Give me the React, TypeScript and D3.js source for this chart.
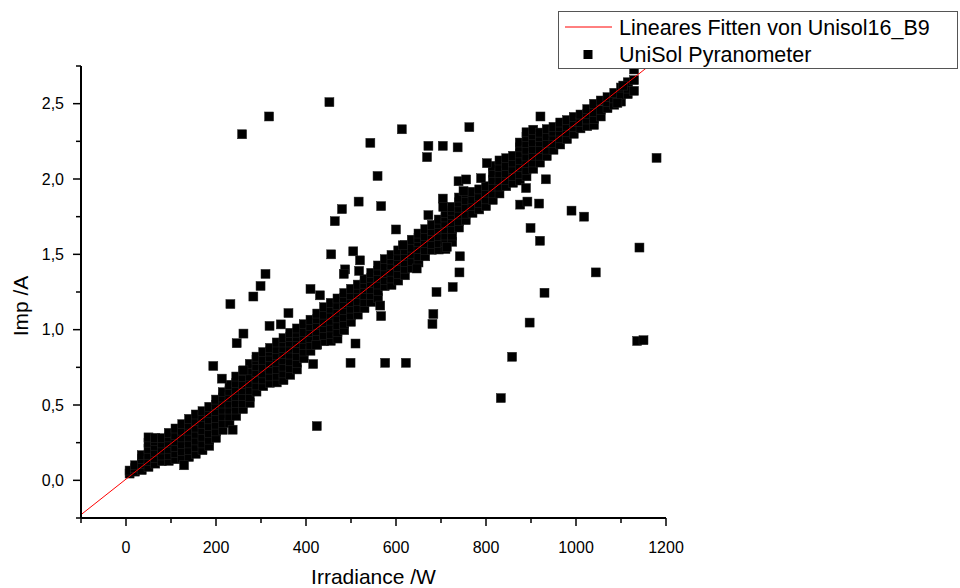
import React from 'react';
import * as d3 from 'd3';

const W = 960;
const H = 588;

// Axis ticks
const xMajorTicks = [0, 200, 400, 600, 800, 1000, 1200];
const xMinorTicks = [-100, 100, 300, 500, 700, 900, 1100];
const yMajorTicks = [0, 0.5, 1.0, 1.5, 2.0, 2.5];
const yMajorLabels = ['0,0', '0,5', '1,0', '1,5', '2,0', '2,5'];
const yMinorTicks = [-0.25, 0.25, 0.75, 1.25, 1.75, 2.25, 2.75];

// Linear fit
const fitIntercept = 0.008;
const fitSlope = 0.00236;

// Dense band of measurements: [irradiance, list of Imp values]
const bandColumns: [number, number[]][] = [
  [8, [0.045, 0.065]],
  [20, [0.058, 0.08, 0.1]],
  [35, [0.068, 0.11, 0.14, 0.167]],
  [50, [0.089, 0.13, 0.17, 0.21, 0.25, 0.285]],
  [65, [0.111, 0.15, 0.19, 0.23, 0.26, 0.282]],
  [80, [0.127, 0.165, 0.205, 0.245, 0.28]],
  [95, [0.129, 0.17, 0.21, 0.25, 0.285, 0.315]],
  [110, [0.14, 0.18, 0.22, 0.26, 0.3, 0.344]],
  [125, [0.15, 0.195, 0.24, 0.285, 0.33, 0.373]],
  [140, [0.155, 0.2, 0.245, 0.29, 0.33, 0.37, 0.408]],
  [155, [0.176, 0.22, 0.265, 0.31, 0.35, 0.395, 0.437]],
  [170, [0.2, 0.245, 0.29, 0.335, 0.375, 0.42, 0.459]],
  [185, [0.229, 0.27, 0.315, 0.36, 0.405, 0.445, 0.488]],
  [200, [0.282, 0.325, 0.37, 0.415, 0.46, 0.5, 0.536]],
  [215, [0.335, 0.38, 0.425, 0.47, 0.51, 0.55, 0.585]],
  [230, [0.382, 0.425, 0.47, 0.51, 0.555, 0.595, 0.634]],
  [245, [0.428, 0.47, 0.515, 0.56, 0.6, 0.645, 0.689]],
  [260, [0.473, 0.515, 0.56, 0.6, 0.64, 0.685, 0.725]],
  [275, [0.514, 0.555, 0.6, 0.645, 0.69, 0.73, 0.773]],
  [290, [0.589, 0.63, 0.675, 0.72, 0.76, 0.8, 0.821]],
  [305, [0.625, 0.67, 0.71, 0.755, 0.8, 0.851]],
  [320, [0.647, 0.69, 0.735, 0.78, 0.82, 0.855, 0.879]],
  [335, [0.65, 0.695, 0.74, 0.785, 0.83, 0.87, 0.915]],
  [350, [0.665, 0.71, 0.755, 0.8, 0.84, 0.88, 0.915, 0.944]],
  [365, [0.7, 0.745, 0.79, 0.835, 0.875, 0.915, 0.95, 0.979]],
  [380, [0.736, 0.78, 0.825, 0.87, 0.91, 0.95, 0.98, 1.008]],
  [395, [0.81, 0.855, 0.9, 0.94, 0.985, 1.036]],
  [410, [0.86, 0.9, 0.945, 0.985, 1.025, 1.066]],
  [425, [0.901, 0.945, 0.99, 1.03, 1.07, 1.107]],
  [440, [0.923, 0.965, 1.01, 1.05, 1.1, 1.149]],
  [455, [0.926, 0.97, 1.015, 1.06, 1.1, 1.14, 1.178]],
  [470, [0.941, 0.985, 1.03, 1.075, 1.12, 1.165, 1.207]],
  [485, [0.997, 1.04, 1.085, 1.13, 1.17, 1.21, 1.243]],
  [500, [1.052, 1.095, 1.14, 1.185, 1.23, 1.271]],
  [515, [1.1, 1.145, 1.19, 1.235, 1.27, 1.299]],
  [530, [1.143, 1.185, 1.23, 1.27, 1.305, 1.335]],
  [545, [1.184, 1.23, 1.27, 1.31, 1.345, 1.377]],
  [560, [1.211, 1.255, 1.3, 1.345, 1.39, 1.426]],
  [575, [1.289, 1.33, 1.375, 1.42, 1.468]],
  [590, [1.297, 1.34, 1.385, 1.43, 1.465, 1.496]],
  [605, [1.326, 1.37, 1.415, 1.455, 1.49, 1.526]],
  [620, [1.361, 1.405, 1.45, 1.49, 1.53, 1.561]],
  [635, [1.41, 1.455, 1.5, 1.545, 1.597]],
  [650, [1.446, 1.49, 1.535, 1.58, 1.61, 1.638]],
  [665, [1.487, 1.53, 1.575, 1.62, 1.667]],
  [680, [1.53, 1.57, 1.615, 1.655, 1.696]],
  [695, [1.532, 1.575, 1.62, 1.665, 1.7, 1.731]],
  [710, [1.535, 1.58, 1.625, 1.67, 1.71, 1.745, 1.774]],
  [725, [1.583, 1.625, 1.67, 1.715, 1.76, 1.79, 1.815]],
  [740, [1.678, 1.72, 1.765, 1.81, 1.845, 1.877]],
  [755, [1.727, 1.77, 1.815, 1.86, 1.906]],
  [770, [1.775, 1.82, 1.865, 1.915]],
  [785, [1.798, 1.84, 1.885, 1.931]],
  [800, [1.82, 1.865, 1.91, 1.952]],
  [815, [1.861, 1.905, 1.95, 1.995, 2.04, 2.087]],
  [830, [1.904, 1.95, 1.995, 2.04, 2.08, 2.123]],
  [845, [1.952, 1.995, 2.04, 2.085, 2.138]],
  [860, [1.975, 2.02, 2.065, 2.11, 2.154]],
  [875, [1.99, 2.035, 2.08, 2.125, 2.17, 2.21, 2.242]],
  [890, [2.018, 2.06, 2.105, 2.15, 2.195, 2.24, 2.28, 2.31]],
  [905, [2.068, 2.11, 2.155, 2.2, 2.245, 2.29, 2.327]],
  [920, [2.109, 2.155, 2.2, 2.245, 2.28, 2.308]],
  [935, [2.152, 2.195, 2.24, 2.285, 2.331]],
  [950, [2.194, 2.24, 2.285, 2.315, 2.346]],
  [965, [2.229, 2.27, 2.315, 2.345, 2.375]],
  [980, [2.265, 2.31, 2.35, 2.391]],
  [995, [2.3, 2.345, 2.38, 2.412]],
  [1010, [2.336, 2.38, 2.428]],
  [1025, [2.351, 2.395, 2.43, 2.464]],
  [1040, [2.359, 2.4, 2.445, 2.499]],
  [1055, [2.415, 2.46, 2.521]],
  [1070, [2.47, 2.51, 2.543]],
  [1085, [2.493, 2.535, 2.572]],
  [1100, [2.514, 2.56, 2.607]],
  [1115, [2.563, 2.6, 2.642]],
  [1129, [2.585, 2.656, 2.727]],
];

// Scattered measurements away from the band
const outlierIrr = [
  258, 318, 452, 613, 543, 559, 567, 517, 480, 464, 600, 456, 505, 520, 487, 518,
  484, 310, 299, 283, 232, 410, 361, 261, 246, 319, 344, 431, 194, 213, 261, 615,
  646, 672, 713, 704, 705, 763, 672, 669, 704, 737, 921, 802, 789, 739, 756, 750,
  565, 567, 510, 423, 416, 499, 576, 622, 424, 237, 129, 742, 741, 1044, 726, 690,
  930, 683, 681, 897, 858, 833, 1136, 1150, 1141, 1179, 889, 933, 876, 892, 918, 990,
  1018, 899, 920, 1105, 1092,
];
const outlierImp = [
  2.297, 2.415, 2.51, 2.33, 2.24, 2.02, 1.82, 1.85, 1.8, 1.72, 1.665, 1.5, 1.52, 1.46, 1.4, 1.39,
  1.37, 1.37, 1.29, 1.22, 1.17, 1.27, 1.11, 0.974, 0.91, 1.025, 1.035, 1.228, 0.759, 0.675, 0.73, 1.56,
  1.406, 1.76, 1.55, 1.87, 1.815, 2.344, 2.22, 2.145, 2.22, 2.21, 2.415, 2.105, 2.005, 1.985, 1.997, 1.92,
  1.16, 1.09, 0.908, 0.9, 0.772, 0.78, 0.78, 0.78, 0.36, 0.336, 0.1, 1.487, 1.38, 1.38, 1.283, 1.25,
  1.245, 1.104, 1.038, 1.047, 0.82, 0.546, 0.925, 0.93, 1.545, 2.14, 1.94, 1.998, 1.83, 1.85, 1.837, 1.79,
  1.75, 1.675, 1.59, 2.62, 2.505,
];

const FONT = 'Liberation Sans, Arial, Helvetica, sans-serif';

export default function App() {
  const x = d3.scaleLinear().domain([-100, 1200]).range([81, 666]);
  const y = d3.scaleLinear().domain([-0.25, 2.75]).range([518, 66]);

  const points: { irr: number; imp: number }[] = [];
  bandColumns.forEach(([irr, imps]) => imps.forEach((imp) => points.push({ irr, imp })));
  outlierIrr.forEach((irr, i) => points.push({ irr, imp: outlierImp[i] }));

  const s = 9;
  const [x0, x1] = x.range();
  const [yb, yt] = y.range();
  const fitLine = d3
    .line<number>()
    .x((d) => x(d))
    .y((d) => y(fitIntercept + fitSlope * d))([-100, 1200]);

  return (
    <svg
      width={W}
      height={H}
      style={{ position: 'absolute', left: 0, top: 0, background: '#fff' }}
      fontFamily={FONT}
    >
      <defs>
        <clipPath id="plotClip">
          <rect x={x0} y={yt} width={x1 - x0} height={yb - yt} />
        </clipPath>
      </defs>
      <rect x={0} y={0} width={W} height={H} fill="#fff" />

      {/* markers */}
      <g>
        {points.map((p, i) => (
          <rect
            key={i}
            x={x(p.irr) - s / 2}
            y={y(p.imp) - s / 2}
            width={s}
            height={s}
            fill="#000"
            stroke="#222"
            strokeWidth={0.5}
          />
        ))}
      </g>

      {/* fit line */}
      <path d={fitLine || ''} stroke="#ff0000" strokeWidth={1} fill="none" clipPath="url(#plotClip)" />

      {/* axes */}
      <line x1={x0} x2={x1} y1={yb} y2={yb} stroke="#000" strokeWidth={2} />
      <line x1={x0} x2={x0} y1={yb} y2={yt} stroke="#000" strokeWidth={2} />
      {xMajorTicks.map((t) => (
        <g key={'xm' + t}>
          <line x1={x(t)} x2={x(t)} y1={yb} y2={yb + 8} stroke="#000" strokeWidth={1.5} />
          <text x={x(t)} y={553} textAnchor="middle" fontSize={16} fill="#000">
            {t}
          </text>
        </g>
      ))}
      {xMinorTicks.map((t) => (
        <line key={'xn' + t} x1={x(t)} x2={x(t)} y1={yb} y2={yb + 5} stroke="#000" strokeWidth={1.5} />
      ))}
      {yMajorTicks.map((t, i) => (
        <g key={'ym' + t}>
          <line x1={x0 - 8} x2={x0} y1={y(t)} y2={y(t)} stroke="#000" strokeWidth={1.5} />
          <text x={64} y={y(t) + 5.5} textAnchor="end" fontSize={16} fill="#000">
            {yMajorLabels[i]}
          </text>
        </g>
      ))}
      {yMinorTicks.map((t) => (
        <line key={'yn' + t} x1={x0 - 5} x2={x0} y1={y(t)} y2={y(t)} stroke="#000" strokeWidth={1.5} />
      ))}

      {/* axis titles */}
      <text x={(x0 + x1) / 2} y={584} textAnchor="middle" fontSize={21} fill="#000">
        Irradiance /W
      </text>
      <text
        transform={`translate(28,306) rotate(-90)`}
        textAnchor="middle"
        fontSize={21}
        fill="#000"
      >
        Imp /A
      </text>

      {/* legend */}
      <g>
        <rect x={558.5} y={11.5} width={399} height={57} fill="#fff" stroke="#555" strokeWidth={1} />
        <line x1={565} x2={612} y1={27} y2={27} stroke="#ff0000" strokeWidth={1} />
        <text x={619} y={35} fontSize={21.5} fill="#000">
          Lineares Fitten von Unisol16_B9
        </text>
        <rect x={583.5} y={50} width={9} height={9} fill="#000" />
        <text x={619} y={62} fontSize={21.5} fill="#000">
          UniSol Pyranometer
        </text>
      </g>
    </svg>
  );
}
